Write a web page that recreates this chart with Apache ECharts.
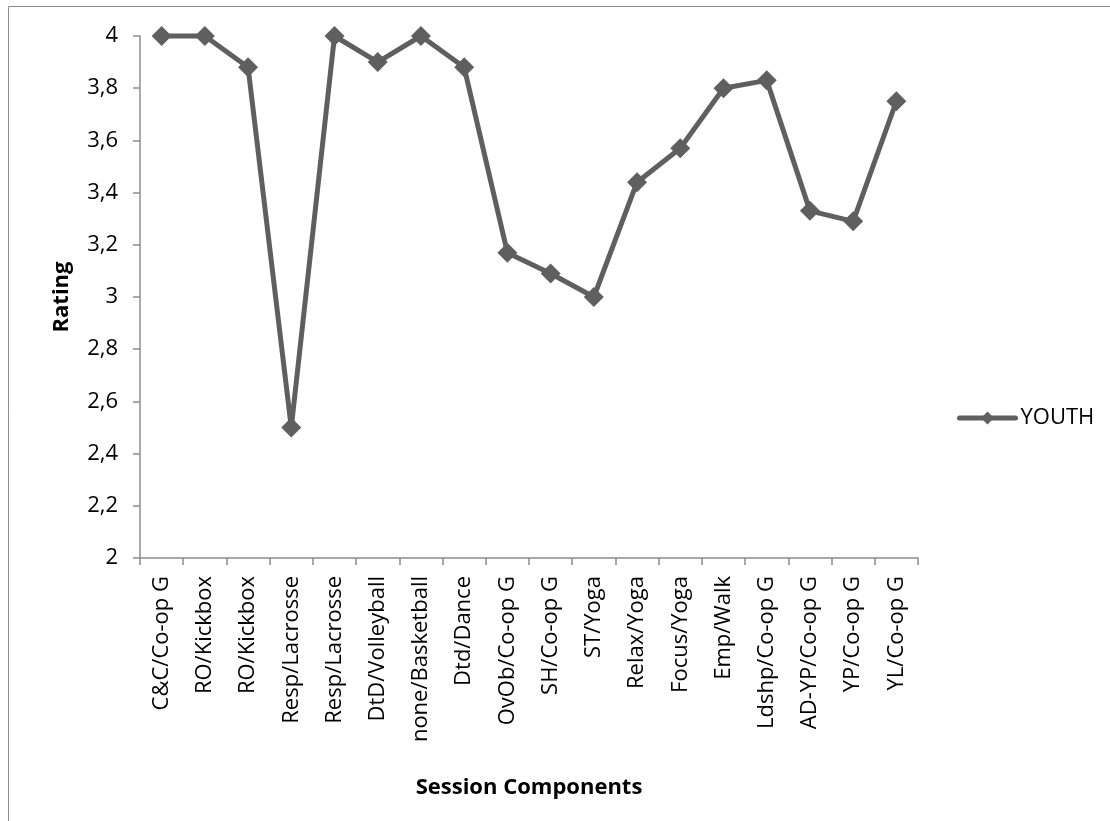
<!DOCTYPE html>
<html>
<head>
<meta charset="utf-8">
<script src="https://cdn.jsdelivr.net/npm/echarts@6/dist/echarts.min.js"></script>
<style>
  html, body { margin: 0; padding: 0; background: #fff; }
  #chart { width: 1110px; height: 821px; }
</style>
</head>
<body>
<div id="chart"></div>
<script>
// Session components rated by youth participants
const categories = [
  'C&C/Co-op G', 'RO/Kickbox', 'RO/Kickbox', 'Resp/Lacrosse', 'Resp/Lacrosse',
  'DtD/Volleyball', 'none/Basketball', 'Dtd/Dance', 'OvOb/Co-op G', 'SH/Co-op G',
  'ST/Yoga', 'Relax/Yoga', 'Focus/Yoga', 'Emp/Walk', 'Ldshp/Co-op G',
  'AD-YP/Co-op G', 'YP/Co-op G', 'YL/Co-op G'
];
const youth = [4, 4, 3.88, 2.5, 4, 3.9, 4, 3.88, 3.17, 3.09, 3, 3.44, 3.57, 3.8, 3.83, 3.33, 3.29, 3.75];
const yMin = 2, yMax = 4, yStep = 0.2;

const font = '"Open Sans", "Noto Sans", sans-serif';
const lineColor = '#5f5f5f';
const axisColor = '#8c8c8c';

const chart = echarts.init(document.getElementById('chart'));
chart.setOption({
  animation: false,
  backgroundColor: '#fff',
  graphic: [{
    type: 'rect',
    shape: { x: 8.5, y: 6.5, width: 1120, height: 830 },
    style: { fill: 'none', stroke: '#8c8c8c', lineWidth: 1 },
    silent: true
  }],
  grid: { left: 140, top: 36, right: 192, bottom: 263, containLabel: false },
  legend: {
    left: 957, top: 407,
    padding: 0,
    itemWidth: 56, itemHeight: 16,
    itemGap: 4,
    lineStyle: { width: 5, cap: 'round' },
    textStyle: { fontFamily: font, fontSize: 22, color: '#000' },
    data: ['YOUTH']
  },
  xAxis: {
    type: 'category',
    data: categories,
    boundaryGap: true,
    name: 'Session Components',
    nameLocation: 'middle',
    nameGap: 219,
    nameTextStyle: { fontFamily: font, fontSize: 22, fontWeight: 'bold', color: '#000' },
    axisLine: { lineStyle: { color: axisColor, width: 1.5 } },
    axisTick: { show: true, alignWithLabel: false, length: 7, lineStyle: { color: axisColor, width: 1.5 } },
    axisLabel: {
      rotate: 90, interval: 0, margin: 18,
      fontFamily: font, fontSize: 22, color: '#000'
    },
    splitLine: { show: false }
  },
  yAxis: {
    type: 'value',
    min: yMin, max: yMax, interval: yStep,
    name: 'Rating',
    nameLocation: 'middle',
    nameRotate: 90,
    nameGap: 67,
    nameTextStyle: { fontFamily: font, fontSize: 22, fontWeight: 'bold', color: '#000' },
    axisLine: { show: true, lineStyle: { color: axisColor, width: 1.5 } },
    axisTick: { show: true, length: 7, lineStyle: { color: axisColor, width: 1.5 } },
    axisLabel: {
      margin: 22,
      fontFamily: font, fontSize: 22, color: '#000',
      formatter: v => String(Math.round(v * 10) / 10).replace('.', ',')
    },
    splitLine: { show: false }
  },
  series: [{
    name: 'YOUTH',
    type: 'line',
    data: youth,
    symbol: 'diamond',
    symbolSize: 20,
    clip: false,
    itemStyle: { color: lineColor },
    lineStyle: { color: lineColor, width: 5 }
  }]
});
</script>
</body>
</html>
